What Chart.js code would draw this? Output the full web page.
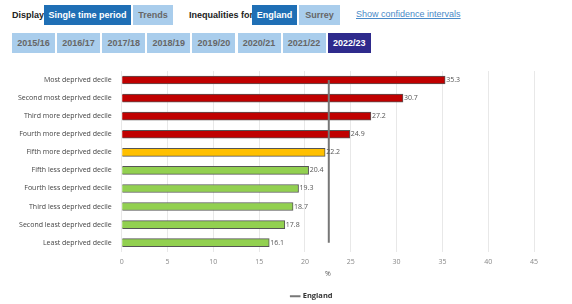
<!DOCTYPE html>
<html>
<head>
<meta charset="utf-8">
<script src="https://cdn.jsdelivr.net/npm/chart.js@4"></script>
<style>
  body { margin: 0; width: 572px; height: 304px; overflow: hidden; background: #fff; font-family: Arial, "Liberation Sans", sans-serif; }
  .lbl { position: absolute; font-size: 9px; font-weight: bold; color: #222; top: 10px; }
  .btn { position: absolute; height: 20px; line-height: 20px; font-size: 9px; font-weight: bold; text-align: center; color: #666; background: #a9cdec; }
  .btn.on { background: #1f6fb5; color: #fff; }
  .btn.sel { background: #2e2a8c; color: #fff; }
  .link { position: absolute; left: 356px; top: 9px; font-size: 9px; color: #4a8ac8; text-decoration: underline; }
  #wrap { position: absolute; left: 0; top: 60px; width: 572px; height: 244px; }
</style>
</head>
<body>
<div class="lbl" style="left:12px">Display</div>
<div class="btn on" style="left:44px;top:5px;width:87px">Single time period</div>
<div class="btn" style="left:133px;top:5px;width:40px">Trends</div>
<div class="lbl" style="left:189px">Inequalities for</div>
<div class="btn on" style="left:252px;top:5px;width:45px">England</div>
<div class="btn" style="left:299px;top:5px;width:41px">Surrey</div>
<div class="link">Show confidence intervals</div>
<div id="years"></div>
<div id="wrap"><canvas id="chart"></canvas></div>
<script>
const years = ['2015/16','2016/17','2017/18','2018/19','2019/20','2020/21','2021/22','2022/23'];
const deciles = ['Most deprived decile','Second most deprived decile','Third more deprived decile','Fourth more deprived decile','Fifth more deprived decile','Fifth less deprived decile','Fourth less deprived decile','Third less deprived decile','Second least deprived decile','Least deprived decile'];
const values = [35.3, 30.7, 27.2, 24.9, 22.2, 20.4, 19.3, 18.7, 17.8, 16.1];
const barColours = ['#c00000','#c00000','#c00000','#c00000','#ffc000','#92d050','#92d050','#92d050','#92d050','#92d050'];
const englandValue = 22.6;

const yearsDiv = document.getElementById('years');
years.forEach((y, i) => {
  const d = document.createElement('div');
  d.className = 'btn' + (i === years.length - 1 ? ' sel' : '');
  d.style.left = (12 + i * 45.1) + 'px';
  d.style.top = '33px';
  d.style.width = '43px';
  d.textContent = y;
  yearsDiv.appendChild(d);
});

const valueLabels = {
  id: 'valueLabels',
  afterDatasetsDraw(chart) {
    const ctx = chart.ctx;
    const meta = chart.getDatasetMeta(0);
    ctx.save();
    ctx.font = '7px "Open Sans"';
    ctx.fillStyle = '#555';
    ctx.textBaseline = 'middle';
    meta.data.forEach((bar, i) => {
      ctx.fillText(values[i].toFixed(1), bar.x + 1, bar.y);
    });
    ctx.restore();
  }
};

// legend sits a bit right of the canvas centre in the original
const shiftLegend = {
  id: 'shiftLegend',
  afterLayout(chart) {
    chart.legend.left += 41;
    chart.legend.right += 41;
  }
};

new Chart(document.getElementById('chart'), {
  type: 'bar',
  data: {
    labels: deciles,
    datasets: [
      { label: 'Value', data: values, backgroundColor: barColours, borderColor: '#555', borderWidth: 1, barThickness: 8, order: 2 },
      { type: 'line', label: 'England', data: deciles.map(() => englandValue), indexAxis: 'y',
        borderColor: '#777', borderWidth: 2, pointRadius: 0, fill: false, order: 1 }
    ]
  },
  options: {
    indexAxis: 'y',
    responsive: true,
    maintainAspectRatio: false,
    animation: false,
    layout: { padding: { left: 8, right: 38, top: 11, bottom: -6 } },
    scales: {
      x: {
        min: 0, max: 45,
        ticks: { stepSize: 5, color: '#888', font: { family: 'Open Sans', size: 7 }, padding: 6 },
        grid: { color: '#e8e8e8', drawTicks: false },
        border: { display: false },
        title: { display: true, text: '%', color: '#555', font: { family: 'Open Sans', size: 7 }, padding: { top: -2, bottom: 12 } }
      },
      y: {
        afterFit(scale) { scale.paddingTop = 0; },
        ticks: { color: '#444', font: { family: 'Open Sans', size: 7 }, padding: 10 },
        grid: { display: false, drawTicks: false },
        border: { display: false }
      }
    },
    plugins: {
      legend: {
        position: 'bottom',
        labels: {
          filter: item => item.text === 'England',
          usePointStyle: true,
          pointStyle: 'line',
          boxWidth: 10,
          padding: 2,
          color: '#333',
          font: { family: 'Open Sans', size: 7.5, weight: 'bold' }
        }
      },
      tooltip: { enabled: false }
    }
  },
  plugins: [valueLabels, shiftLegend]
});
</script>
</body>
</html>
